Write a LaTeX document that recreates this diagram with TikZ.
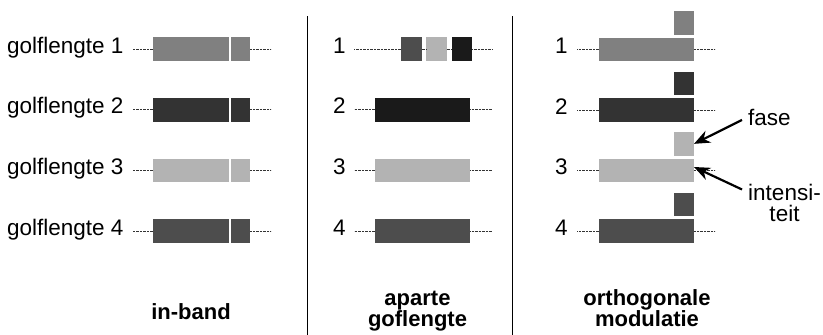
\documentclass[tikz,border=0pt]{standalone}
\usepackage{fontspec}
\setmainfont{Liberation Sans}
\usetikzlibrary{arrows.meta}
\definecolor{gA}{HTML}{808080}
\definecolor{gB}{HTML}{333333}
\definecolor{gC}{HTML}{B3B3B3}
\definecolor{gD}{HTML}{4D4D4D}
\definecolor{gE}{HTML}{1A1A1A}
\begin{document}
\begin{tikzpicture}[x=1pt,y=-1pt,
  lbl/.style={font=\fontsize{22.5}{27}\selectfont, inner sep=0pt, anchor=base west},
  ttl/.style={font=\fontsize{22}{19.7}\selectfont\bfseries, inner sep=0pt, anchor=base, align=center},
  bar/.style={inner sep=0pt, outer sep=0pt, minimum height=23.7pt, anchor=north west, draw=none},
  dotl/.style={draw=black!80, line width=0.7pt, dash pattern=on 0.7pt off 0.7pt},
  divider/.style={draw=black, line width=1.4pt},
  arr/.style={draw=black, line width=2.2pt, -{Stealth[length=16pt,width=13pt]}}]
\useasboundingbox (0,0) rectangle (823,335);
% dividers
\coordinate (d1t) at (307.3,16); \coordinate (d1b) at (307.3,335);
\coordinate (d2t) at (512.5,16); \coordinate (d2b) at (512.5,335);
\draw[divider] (d1t) -- (d1b);
\draw[divider] (d2t) -- (d2b);
% ---------- in-band ----------
\foreach \i/\c [evaluate=\i as \t using 37.3+(\i-1)*60.6] in {1/gA,2/gB,3/gC,4/gD}{
  \node[lbl] (L\i) at (7,\t+16) {golflengte \i};
  \node[bar, fill=\c, minimum width=75.5pt] (Lm\i) at (153,\t) {};
  \node[bar, fill=\c, minimum width=19.5pt] (Lt\i) at (230.5,\t) {};
  \draw[dotl] (Lm\i.west) -- ++(-20,0);
  \draw[dotl] (Lt\i.east) -- ++(21,0);
}
% ---------- aparte golflengte ----------
\foreach \i [evaluate=\i as \t using 37.3+(\i-1)*60.6] in {1,2,3,4}{
  \node[lbl] (M\i) at (333,\t+16) {\i};
}
\node[bar, fill=gD, minimum width=20.5pt] (Ms1) at (401,37.3) {};
\node[bar, fill=gC, minimum width=20.5pt] (Ms2) at (426,37.3) {};
\node[bar, fill=gE, minimum width=20.5pt] (Ms3) at (451.7,37.3) {};
\draw[dotl] (Ms1.west) -- ++(-47,0);
\draw[dotl] (Ms1.east) -- (Ms2.west);
\draw[dotl] (Ms2.east) -- (Ms3.west);
\draw[dotl] (Ms3.east) -- ++(20,0);
\foreach \i/\c [evaluate=\i as \t using 37.3+(\i-1)*60.6] in {2/gE,3/gC,4/gD}{
  \node[bar, fill=\c, minimum width=95.3pt] (Mb\i) at (375,\t) {};
  \draw[dotl] (Mb\i.west) -- ++(-21,0);
  \draw[dotl] (Mb\i.east) -- ++(21.7,0);
}
% ---------- orthogonale modulatie ----------
\foreach \i/\c [evaluate=\i as \t using 37.5+(\i-1)*60.5] in {1/gA,2/gB,3/gC,4/gD}{
  \node[lbl] (R\i) at (555,\t+16) {\i};
  \node[bar, fill=\c, minimum width=95pt] (Rb\i) at (599,\t) {};
  \node[bar, fill=\c, minimum width=20pt] (Rs\i) at (674,\t-26.5) {};
  \draw[dotl] (Rb\i.west) -- ++(-22,0);
  \draw[dotl] (Rb\i.east) -- ++(21,0);
}
\node[lbl] (fase) at (748,125) {fase};
\node[lbl, anchor=base, align=center, font=\fontsize{22.5}{21.7}\selectfont] (int) at (784.5,221.7) {intensi-\\teit};
\draw[arr] ([shift={(-6,3)}]fase.west) -- (Rs3.east);
\draw[arr] ([shift={(-6,6)}]int.north west) -- ([shift={(0,8.5)}]Rb3.north east);
% ---------- titles ----------
\node[ttl] (t1) at (191,319.3) {in-band};
\node[ttl] (t2) at (417.5,326.7) {aparte\\goflengte};
\node[ttl] (t3) at (647,326.7) {orthogonale\\modulatie};
\end{tikzpicture}
\end{document}
